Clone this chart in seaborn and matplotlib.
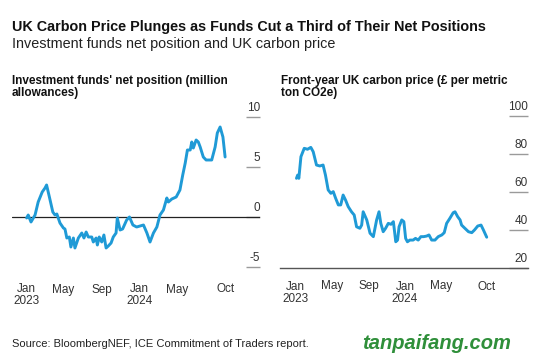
import pandas as pd
import matplotlib.pyplot as plt
import matplotlib.transforms as mtransforms
import seaborn as sns

# Investment funds' net position (million allowances)
fund_dates = [
    "2023-01-03", "2023-01-08", "2023-01-17", "2023-01-30", "2023-02-09", "2023-02-22",
    "2023-03-03", "2023-03-08", "2023-03-17", "2023-03-28", "2023-04-04", "2023-04-10",
    "2023-04-20", "2023-05-01", "2023-05-06", "2023-05-12", "2023-05-20", "2023-05-25",
    "2023-06-02", "2023-06-07", "2023-06-18", "2023-06-29", "2023-07-06", "2023-07-13",
    "2023-07-20", "2023-07-31", "2023-08-05", "2023-08-14", "2023-08-18", "2023-08-24",
    "2023-09-01", "2023-09-08", "2023-09-15", "2023-09-22", "2023-10-01", "2023-10-08",
    "2023-10-17", "2023-10-21", "2023-10-30", "2023-11-07", "2023-11-20", "2023-11-29",
    "2023-12-10", "2023-12-22", "2024-01-02", "2024-01-13", "2024-01-24", "2024-02-03",
    "2024-02-14", "2024-02-25", "2024-03-06", "2024-03-17", "2024-03-28", "2024-04-02",
    "2024-04-13", "2024-04-27", "2024-05-09", "2024-05-18", "2024-05-26", "2024-06-02",
    "2024-06-11", "2024-06-16", "2024-06-21", "2024-06-30", "2024-07-07", "2024-07-13",
    "2024-07-23", "2024-08-01", "2024-08-08", "2024-08-19", "2024-08-30", "2024-09-06",
    "2024-09-15", "2024-09-24", "2024-10-01",
]
fund_values = [
    -0.1, 0.2, -0.5, 0.2, 1.5, 2.5,
    2.9, 3.2, 2.0, 0.5, 0.2, 0.3,
    -0.6, -1.1, -1.2, -2.1, -2.0, -3.0,
    -2.1, -3.1, -2.1, -1.6, -2.1, -1.5,
    -2.0, -2.0, -2.5, -2.1, -2.8, -2.0,
    -2.5, -1.8, -3.1, -2.9, -2.6, -2.0,
    -1.6, -0.1, -1.3, -1.2, -0.3, 0.0,
    -0.8, -1.0, -0.9, -0.8, -1.6, -2.5,
    -1.6, -1.0, 0.2, 0.7, 1.9, 1.5,
    1.8, 2.0, 2.7, 4.2, 5.4, 6.7,
    6.7, 7.5, 6.9, 7.7, 7.5, 7.0,
    6.0, 5.7, 5.7, 5.7, 7.0, 8.4,
    9.0, 8.0, 6.0,
]

# Front-year UK carbon price (GBP per metric ton CO2e)
price_dates = [
    "2023-01-03", "2023-01-07", "2023-01-11", "2023-01-18", "2023-01-29", "2023-02-09",
    "2023-02-20", "2023-02-28", "2023-03-11", "2023-03-22", "2023-04-02", "2023-04-10",
    "2023-04-19", "2023-04-28", "2023-05-06", "2023-05-14", "2023-05-23", "2023-05-31",
    "2023-06-08", "2023-06-16", "2023-06-25", "2023-07-06", "2023-07-15", "2023-07-23",
    "2023-08-03", "2023-08-09", "2023-08-14", "2023-08-26", "2023-09-06", "2023-09-17",
    "2023-09-28", "2023-10-06", "2023-10-12", "2023-10-20", "2023-10-28", "2023-11-06",
    "2023-11-15", "2023-11-23", "2023-12-01", "2023-12-07", "2023-12-12", "2023-12-21",
    "2023-12-28", "2024-01-03", "2024-01-09", "2024-01-17", "2024-01-28", "2024-02-05",
    "2024-02-14", "2024-02-23", "2024-03-03", "2024-03-13", "2024-03-21", "2024-03-30",
    "2024-04-10", "2024-04-21", "2024-05-03", "2024-05-11", "2024-05-19", "2024-05-30",
    "2024-06-10", "2024-06-16", "2024-06-25", "2024-07-03", "2024-07-08", "2024-07-19",
    "2024-07-31", "2024-08-11", "2024-08-20", "2024-08-31", "2024-09-11", "2024-09-19",
    "2024-09-30",
]
price_values = [
    67.2, 68.9, 67.2, 78.6, 83.0, 82.5,
    83.5, 81.2, 74.2, 73.7, 74.2, 68.9,
    61.1, 59.3, 60.2, 56.7, 53.2, 53.2,
    58.4, 55.8, 52.3, 49.6, 47.9, 41.7,
    40.9, 42.6, 49.6, 45.3, 38.3, 36.5,
    45.3, 49.6, 43.5, 39.1, 40.9, 43.5,
    43.0, 44.4, 33.8, 34.7, 41.7, 45.3,
    44.4, 35.6, 33.8, 34.7, 34.7, 35.6,
    34.7, 36.5, 36.5, 36.8, 37.4, 34.7,
    34.7, 36.5, 37.4, 38.6, 43.5, 46.2,
    49.1, 49.6, 47.0, 45.3, 42.6, 40.9,
    39.1, 38.6, 40.0, 42.1, 42.6, 40.0,
    36.2,
]

x_ticks = ["2023-01-01", "2023-05-01", "2023-09-01", "2024-01-01", "2024-05-01", "2024-10-01"]
x_tick_labels = ["Jan\n2023", "May", "Sep", "Jan\n2024", "May", "Oct"]
fund_yticks = [-5, 0, 5, 10]
price_yticks = [20, 40, 60, 80, 100]

fund_df = pd.DataFrame({"date": pd.to_datetime(fund_dates), "value": fund_values})
price_df = pd.DataFrame({"date": pd.to_datetime(price_dates), "value": price_values})

sns.set_style("white")
plt.rcParams["font.family"] = ["Liberation Sans", "DejaVu Sans"]

line_color = "#1f9ad6"
tick_color = "#9a9a9a"
text_color = "#333333"

W, H = 550, 362
fig = plt.figure(figsize=(W / 100, H / 100), dpi=100)

ax1 = fig.add_axes([12 / W, 1 - 271 / H, 248 / W, (271 - 105) / H])
ax2 = fig.add_axes([280 / W, 1 - 268 / H, 248 / W, (268 - 105) / H])

sns.lineplot(data=fund_df, x="date", y="value", ax=ax1, color=line_color, linewidth=2.1)
sns.lineplot(data=price_df, x="date", y="value", ax=ax2, color=line_color, linewidth=2.1)

ax1.axhline(0, color="#222222", linewidth=0.9, zorder=1)

ax1.set_xlim(pd.Timestamp("2022-11-17"), pd.Timestamp("2025-01-21"))
ax1.set_ylim(-5.4, 11.2)
ax2.set_xlim(pd.Timestamp("2022-11-09"), pd.Timestamp("2025-02-15"))
ax2.set_ylim(20, 105.8)


def style_axis(ax, yticks, tick_len):
    ax.set_xlabel("")
    ax.set_ylabel("")
    for s in ax.spines.values():
        s.set_visible(False)
    ax.set_xticks(pd.to_datetime(x_ticks))
    ax.set_xticklabels(x_tick_labels, fontsize=8.5, color=text_color, ha="center", linespacing=1.0)
    ax.tick_params(axis="x", direction="out", length=4, width=0.8, color=tick_color, pad=5)
    ax.set_yticks(yticks)
    ax.yaxis.tick_right()
    ax.tick_params(axis="y", direction="in", length=tick_len, width=1.0, color=tick_color,
                   labelright=False, labelleft=False)
    trans = mtransforms.offset_copy(
        mtransforms.blended_transform_factory(ax.transAxes, ax.transData),
        fig=fig, x=0, y=4.5, units="points")
    for v in yticks:
        ax.text(1.0, v, str(v), transform=trans, ha="right", va="baseline",
                fontsize=8.5, color=text_color)


style_axis(ax1, fund_yticks, 10)
style_axis(ax2, price_yticks, 14)
ax2.spines["bottom"].set_visible(True)
ax2.spines["bottom"].set_color("#555555")
ax2.spines["bottom"].set_linewidth(1.0)

# titles
fig.text(12 / W, 1 - 31 / H, "UK Carbon Price Plunges as Funds Cut a Third of Their Net Positions",
         fontsize=10.4, fontweight="bold", color="#111111")
fig.text(12 / W, 1 - 48 / H, "Investment funds net position and UK carbon price",
         fontsize=10.4, color="#222222")
fig.text(12 / W, 1 - 96 / H, "Investment funds' net position (million\nallowances)",
         fontsize=8.5, fontweight="bold", color="#111111", linespacing=1.05)
fig.text(281 / W, 1 - 96 / H, "Front-year UK carbon price (£ per metric\nton CO2e)",
         fontsize=8.5, fontweight="bold", color="#111111", linespacing=1.05)

fig.text(12 / W, 1 - 347 / H, "Source: BloombergNEF, ICE Commitment of Traders report.",
         fontsize=8, color="#222222")
fig.text(362 / W, 1 - 349 / H, "tanpaifang.com", fontsize=14.5, fontweight="bold",
         style="italic", color="#2f8f3a")

fig.savefig("out.png", dpi=100)
